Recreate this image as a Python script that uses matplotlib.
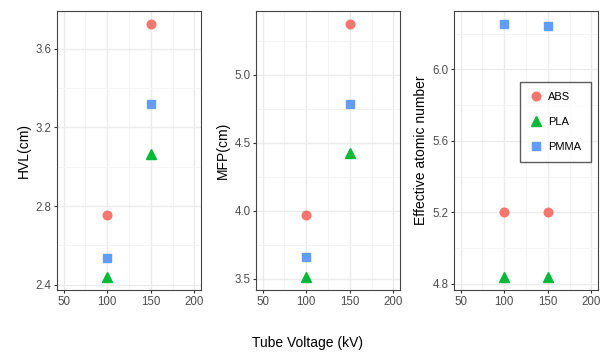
import matplotlib
matplotlib.use("Agg")
import matplotlib.pyplot as plt
from matplotlib.ticker import MultipleLocator

plt.rcParams['font.family'] = ['Liberation Sans', 'DejaVu Sans']

voltage = [100, 150]
materials = ["ABS", "PLA", "PMMA"]
hvl = {"ABS": [2.754, 3.728], "PLA": [2.438, 3.066], "PMMA": [2.536, 3.318]}
mfp = {"ABS": [3.973, 5.375], "PLA": [3.512, 4.422], "PMMA": [3.66, 4.785]}
zeff = {"ABS": [5.201, 5.199], "PLA": [4.836, 4.836], "PMMA": [6.256, 6.245]}

colors = {"ABS": "#F8766D", "PLA": "#00BA38", "PMMA": "#619CFF"}
markers = {"ABS": ("o", 6.2), "PLA": ("^", 7), "PMMA": ("s", 5.8)}

panels = [
    (hvl, "HVL(cm)", 0.4, 0.2),
    (mfp, "MFP(cm)", 0.5, 0.25),
    (zeff, "Effective atomic number", 0.4, 0.2),
]
lefts = [57, 256, 454]

fig = plt.figure(figsize=(6.05, 3.54), dpi=100)

for i, (data, ylab, major, minor) in enumerate(panels):
    ax = fig.add_axes([lefts[i] / 605, 1 - 290 / 354, 144 / 605, 279 / 354])
    for m in materials:
        mk, ms = markers[m]
        ax.plot(voltage, data[m], linestyle="none", marker=mk, markersize=ms,
                color=colors[m], label=m, zorder=3)
    vals = [v for m in materials for v in data[m]]
    lo, hi = min(vals), max(vals)
    pad = (hi - lo) * 0.05
    ax.set_ylim(lo - pad, hi + pad)
    ax.set_xlim(42.5, 207.5)
    ax.xaxis.set_major_locator(MultipleLocator(50))
    ax.xaxis.set_minor_locator(MultipleLocator(25))
    ax.yaxis.set_major_locator(MultipleLocator(major))
    ax.yaxis.set_minor_locator(MultipleLocator(minor))
    ax.grid(which="major", color="#EBEBEB", linewidth=1.0, zorder=0)
    ax.grid(which="minor", color="#F3F3F3", linewidth=0.6, zorder=0)
    ax.set_axisbelow(True)
    ax.tick_params(which="minor", length=0)
    ax.tick_params(which="major", length=2.5, color="#333333", labelsize=8.3,
                   labelcolor="#4D4D4D", pad=1.5)
    ax.yaxis.set_major_formatter(plt.FormatStrFormatter("%.1f"))
    for s in ax.spines.values():
        s.set_color("#444444")
        s.set_linewidth(0.8)
    ax.set_ylabel(ylab, fontsize=10, labelpad=3)
    if i == 2:
        leg = ax.legend(loc="upper left", bbox_to_anchor=(0.458, 0.745),
                        borderaxespad=0, frameon=True, fancybox=False,
                        fontsize=8, handletextpad=0.5, labelspacing=1.35,
                        borderpad=0.9, handlelength=1.1)
        leg.get_frame().set_edgecolor("#333333")
        leg.get_frame().set_linewidth(1.0)

fig.text(307 / 605, 1 - 343 / 354, "Tube Voltage (kV)", ha="center", va="center",
         fontsize=10)

fig.savefig("out.png", dpi=100)
